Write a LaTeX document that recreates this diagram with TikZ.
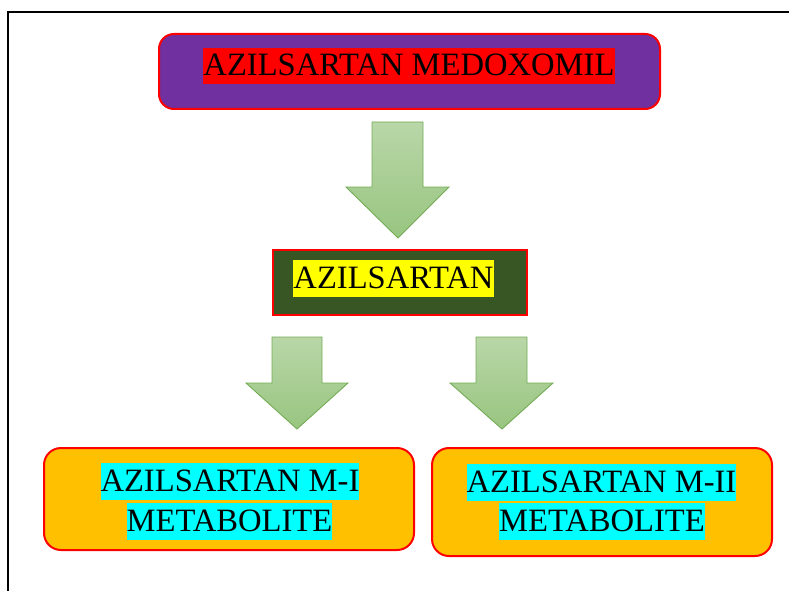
\documentclass[tikz,border=0pt]{standalone}
\usepackage{fontspec}
\setmainfont{Liberation Serif}
\definecolor{boxpurple}{HTML}{7030A0}
\definecolor{boxgreen}{HTML}{375623}
\definecolor{boxorange}{HTML}{FFC000}
\definecolor{hlcyan}{HTML}{00FFFF}
\definecolor{hlyellow}{HTML}{FFFF00}
\definecolor{arrowtop}{RGB}{185,215,168}
\definecolor{arrowbot}{RGB}{152,197,128}
\definecolor{arrowedge}{RGB}{115,172,85}
\begin{document}
\begin{tikzpicture}[x=1pt,y=-1pt,
  box/.style={draw=red, line width=2pt, inner sep=0pt},
  hl/.style={inner sep=0pt, text height=28pt, text depth=8.5pt, font=\fontsize{32.6}{39}\selectfont, anchor=base},
  blockarrow/.style={draw=arrowedge, line width=0.9pt, top color=arrowtop, bottom color=arrowbot, line join=miter}]
\useasboundingbox (0,0) rectangle (789,591);
\draw[line width=2pt] (8,591) -- (8,12) -- (789,12);
% boxes
\node[box, fill=boxpurple, rounded corners=15pt, minimum width=501pt, minimum height=75pt] (topbox) at (409.5,71.5) {};
\node[box, fill=boxgreen, minimum width=254pt, minimum height=65pt] (midbox) at (400,282.5) {};
\node[box, fill=boxorange, rounded corners=17pt, minimum width=370pt, minimum height=102pt] (leftbox) at (229,499) {};
\node[box, fill=boxorange, rounded corners=17pt, minimum width=340pt, minimum height=108pt] (rightbox) at (602,502) {};
% texts
\node[hl, fill=red] (t1) at (409,76) {AZILSARTAN MEDOXOMIL};
\node[hl, fill=hlyellow] (t2) at (393.5,288) {AZILSARTAN};
\node[hl, fill=hlcyan] (t3a) at (230,491) {AZILSARTAN M-I};
\node[hl, fill=hlcyan] (t3b) at (229.5,531) {METABOLITE};
\node[hl, fill=hlcyan] (t4a) at (601.5,492) {AZILSARTAN M-II};
\node[hl, fill=hlcyan] (t4b) at (602,531) {METABOLITE};
% block arrows
\path[blockarrow] (372,122) -- (423,122) -- (423,187) -- (449,187) -- (398,238) -- (346,187) -- (372,187) -- cycle;
\path[blockarrow] (272,337) -- (322,337) -- (322,383) -- (348,383) -- (297,429) -- (246,383) -- (272,383) -- cycle;
\path[blockarrow] (476,337) -- (527,337) -- (527,383) -- (553,383) -- (502,429) -- (450,383) -- (476,383) -- cycle;
\end{tikzpicture}
\end{document}
